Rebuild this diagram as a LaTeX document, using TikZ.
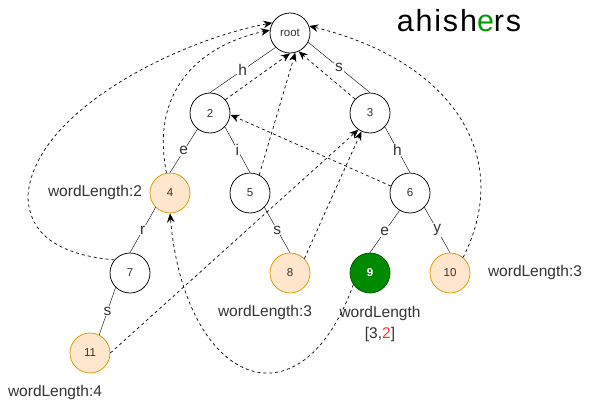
\documentclass[tikz,border=0pt]{standalone}
\usepackage{fontspec}
\setmainfont{Liberation Sans}
\usepackage{tikz}
\usetikzlibrary{arrows.meta,positioning}
\definecolor{wordbg}{HTML}{FFE6CC}
\definecolor{wordbd}{HTML}{D79B00}
\definecolor{hitbg}{HTML}{008A00}
\definecolor{hitbd}{HTML}{005700}
\definecolor{inktext}{HTML}{333333}
\definecolor{hitred}{HTML}{FF3333}
\definecolor{hitgreen}{HTML}{009900}
\tikzset{
  trienode/.style={circle,draw,minimum size=40pt,inner sep=0pt,
                   line width=0.75pt,text=inktext,
                   font=\fontsize{11.5}{13}\selectfont},
  wordnode/.style={trienode,draw=wordbd,fill=wordbg},
  hitnode/.style={trienode,draw=hitbd,fill=hitbg,text=white,
                  font=\fontsize{11.5}{13}\selectfont\bfseries},
  edgelabel/.style={fill=white,inner sep=1pt,text=inktext,
                    font=\fontsize{15.5}{17}\selectfont},
  note/.style={text=inktext,align=center,
               font=\fontsize{15.5}{21}\selectfont},
  failarrow/.style={-{Stealth[length=9pt,width=7.5pt]},dashed,line width=0.7pt},
}

\begin{document}
\begin{tikzpicture}[x=1pt,y=-1pt]
  \useasboundingbox (0,0) rectangle (591,404);
  \node[text=black,font=\fontsize{30.5}{36}\selectfont\addfontfeature{LetterSpace=6}]
    (title) at (459,21) {ahish{\color{hitgreen}e}rs};

  \node[trienode] (root) at (290,33) {root};
  \node[trienode] (n2) at (210,113) {2};
  \node[trienode] (n3) at (370,113) {3};
  \node[wordnode] (n4) at (170,193) {4};
  \node[trienode] (n5) at (250,193) {5};
  \node[trienode] (n6) at (410,193) {6};
  \node[trienode] (n7) at (130,273) {7};
  \node[wordnode] (n8) at (290,273) {8};
  \node[hitnode]  (n9) at (370,273) {9};
  \node[wordnode] (n10) at (450,273) {10};
  \node[wordnode] (n11) at (90,353) {11};

  \draw (root.225) -- node[edgelabel]{h} (n2.north);
  \draw (root.333) -- node[edgelabel]{s} (n3.north);
  \draw (n2.232) -- node[edgelabel]{e} (n4.north);
  \draw (n2.317) -- node[edgelabel]{i} (n5.north);
  \draw (n3.317) -- node[edgelabel]{h} (n6.north);
  \draw (n4.225) -- node[edgelabel]{r} (n7.north);
  \draw (n5.315) -- node[edgelabel]{s} (n8.north);
  \draw (n6.239) -- node[edgelabel]{e} (n9.north);
  \draw (n6.315) -- node[edgelabel]{y} (n10.north);
  \draw (n7.225) -- node[edgelabel]{s} (n11.63);

  \node[note] (len4) at (95,192) {wordLength:2};
  \node[note] (len8) at (265,312) {wordLength:3};
  \node[note] (len9) at (380,324) {wordLength\\{}[3,{\color{hitred}2}]};
  \node[note] (len10) at (535,272) {wordLength:3};
  \node[note] (len11) at (55,392) {wordLength:4};

  \draw[failarrow] (n2.41) -- (root.south);
  \draw[failarrow] (n5.63) -- (root.285);
  \draw[failarrow] (n3.137) -- (root.295);
  \draw[failarrow] (n6.160) -- (n2.355);
  \draw[failarrow] (n8.45) -- (n3.245);
  \draw[failarrow] (n11.east) -- (n3.235);
  \draw[failarrow] (n4.100) .. controls (150,90) and (200,45) .. (root.172);
  \draw[failarrow] (n7.140) .. controls (60,255) and (28,235) .. (28,195)
    .. controls (35,110) and (180,40) .. (root.150);
  \draw[failarrow] (n10.50) .. controls (515,155) and (450,60) .. (root.20);
  \draw[failarrow] (n9.215) .. controls (300,432) and (185,385) .. (n4.south);
\end{tikzpicture}
\end{document}
